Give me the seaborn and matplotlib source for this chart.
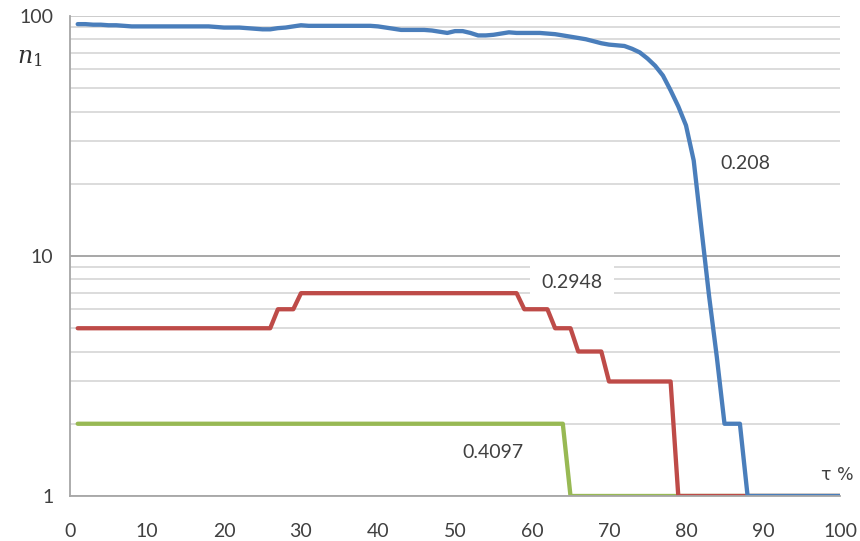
import numpy as np
import pandas as pd
import seaborn as sns
import matplotlib.pyplot as plt
from matplotlib.ticker import FixedLocator, NullFormatter

# Process share tau, percent
tau = list(range(1, 101))

# n1 for the three threshold levels
blue_n = [
    92.5, 92.5, 92, 92, 91.5, 91.5, 91, 90.5, 90.5, 90.5,
    90.5, 90.5, 90.5, 90.5, 90.5, 90.5, 90.5, 90.5, 90, 89.5,
    89.5, 89.5, 89, 88.5, 88, 88, 89, 89.5, 90.5, 91.5,
    91, 91, 91, 91, 91, 91, 91, 91, 91, 90.5,
    89.5, 88.5, 87.5, 87.5, 87.5, 87.5, 87, 86, 85, 86.5,
    86.5, 85, 83, 83, 83.5, 84.5, 85.5, 85, 85, 85,
    85, 84.5, 84, 83, 82, 81, 80, 78.5, 77, 76,
    75.5, 75, 73, 70.5, 66.5, 62, 56.5, 49, 42, 35,
    25, 13, 6.8, 3.8, 2, 2, 2, 1, 1, 1,
    1, 1, 1, 1, 1, 1, 1, 1, 1, 1,
]
red_n = [
    5, 5, 5, 5, 5, 5, 5, 5, 5, 5,
    5, 5, 5, 5, 5, 5, 5, 5, 5, 5,
    5, 5, 5, 5, 5, 5, 6, 6, 6, 7,
    7, 7, 7, 7, 7, 7, 7, 7, 7, 7,
    7, 7, 7, 7, 7, 7, 7, 7, 7, 7,
    7, 7, 7, 7, 7, 7, 7, 7, 6, 6,
    6, 6, 5, 5, 5, 4, 4, 4, 4, 3,
    3, 3, 3, 3, 3, 3, 3, 3, 1, 1,
    1, 1, 1, 1, 1, 1, 1, 1, 1, 1,
    1, 1, 1, 1, 1, 1, 1, 1, 1, 1,
]
green_n = [
    2, 2, 2, 2, 2, 2, 2, 2, 2, 2,
    2, 2, 2, 2, 2, 2, 2, 2, 2, 2,
    2, 2, 2, 2, 2, 2, 2, 2, 2, 2,
    2, 2, 2, 2, 2, 2, 2, 2, 2, 2,
    2, 2, 2, 2, 2, 2, 2, 2, 2, 2,
    2, 2, 2, 2, 2, 2, 2, 2, 2, 2,
    2, 2, 2, 2, 1, 1, 1, 1, 1, 1,
    1, 1, 1, 1, 1, 1, 1, 1, 1, 1,
    1, 1, 1, 1, 1, 1, 1, 1, 1, 1,
    1, 1, 1, 1, 1, 1, 1, 1, 1, 1,
]
series_names = ["0.4097", "0.2948", "0.208"]
series_colors = ["#98B954", "#BE4B48", "#4A7EBB"]

x_ticks = list(range(0, 101, 10))
y_ticks = [1, 10, 100]
y_tick_labels = ["1", "10", "100"]

df = pd.concat([
    pd.DataFrame({"tau": tau, "n": green_n, "level": series_names[0]}),
    pd.DataFrame({"tau": tau, "n": red_n, "level": series_names[1]}),
    pd.DataFrame({"tau": tau, "n": blue_n, "level": series_names[2]}),
])

sns.set_style("white")
plt.rcParams["font.family"] = ["Lato", "DejaVu Sans"]
plt.rcParams["mathtext.fontset"] = "dejavuserif"

FS = 14
TXT = "#404040"

fig = plt.figure(figsize=(8.6, 5.41), dpi=100)
ax = fig.add_axes([70 / 860, 1 - 496 / 541, 770 / 860, 480 / 541])

sns.lineplot(data=df, x="tau", y="n", hue="level", hue_order=series_names,
             palette=series_colors, linewidth=3.1, legend=False, ax=ax,
             solid_joinstyle="round", solid_capstyle="round")

ax.set_yscale("log")
ax.set_xlim(0, 100)
ax.set_ylim(1, 100)
ax.set_xticks(x_ticks)
ax.set_xticklabels([str(v) for v in x_ticks])
ax.yaxis.set_major_locator(FixedLocator(y_ticks))
ax.set_yticklabels(y_tick_labels)
ax.yaxis.set_minor_locator(FixedLocator([2, 3, 4, 5, 6, 7, 8, 9,
                                         20, 30, 40, 50, 60, 70, 80, 90]))
ax.yaxis.set_minor_formatter(NullFormatter())
ax.set_xlabel("")
ax.set_ylabel("")

# grid lines
ax.set_axisbelow(True)
ax.grid(False, axis="x")
ax.grid(True, which="minor", axis="y", color="#D9D9D9", linewidth=1.3)
ax.grid(True, which="major", axis="y", color="#C8C8C8", linewidth=1.3)
for gl, val in zip(ax.get_ygridlines(), y_ticks):
    if val == 10:
        gl.set_color("#A0A0A0")

for side in ("top", "right"):
    ax.spines[side].set_visible(False)
for side in ("left", "bottom"):
    ax.spines[side].set_color("#A6A6A6")
    ax.spines[side].set_linewidth(1.3)

ax.tick_params(axis="x", which="major", direction="out", length=4.5, width=1.3,
               color="#A6A6A6", pad=15, labelsize=FS, labelcolor=TXT)
ax.tick_params(axis="y", which="major", direction="out", length=5, width=1.3,
               color="#A6A6A6", pad=7, labelsize=FS, labelcolor=TXT)
ax.tick_params(axis="y", which="minor", length=0)

# series labels
ax.text(87.7, 24.4, "0.208", ha="center", va="center", fontsize=FS,
        color=TXT,
        bbox=dict(facecolor="white", edgecolor="none", boxstyle="square,pad=0.3"))
ax.text(65.2, 7.79, "0.2948", ha="center", va="center", fontsize=FS,
        color=TXT,
        bbox=dict(facecolor="white", edgecolor="none", boxstyle="square,pad=0.6"))
ax.text(54.9, 1.525, "0.4097", ha="center", va="center", fontsize=FS,
        color=TXT,
        bbox=dict(facecolor="white", edgecolor="none", boxstyle="square,pad=0.3"))

# axis captions
ax.text(99.6, 1.223, "τ %", ha="center", va="center", fontsize=12.5,
        color=TXT, family=["DejaVu Sans"])
fig.text(30 / 860, 1 - 58 / 541, "$n_1$", ha="center", va="center",
         fontsize=17, color="#303030")

fig.savefig("out.png", dpi=100)
